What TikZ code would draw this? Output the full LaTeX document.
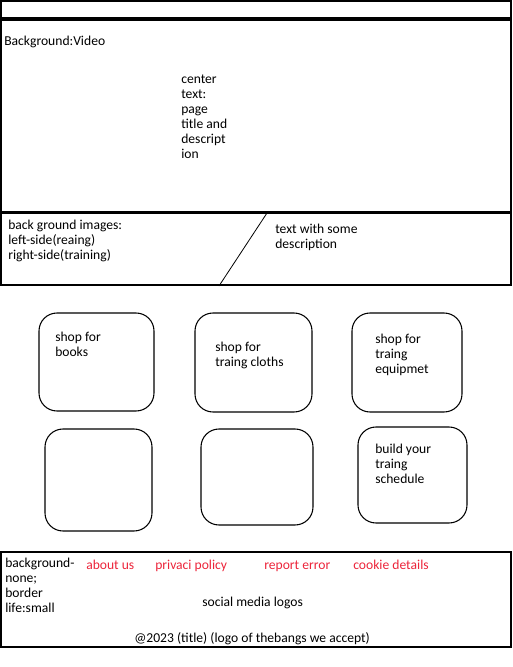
\documentclass[tikz,border=0pt]{standalone}
\usepackage{fontspec}
\setmainfont{Carlito}
\definecolor{linkred}{RGB}{236,36,58}
\tikzset{
  panel/.style={draw=black, line width=0.8pt},
  tile/.style={draw=black, line width=0.8pt, rounded corners=13.5pt},
  txt/.style={black, anchor=base west, inner sep=0pt, align=left, font=\fontsize{10.2}{11.25}\selectfont},
  link/.style={txt, text=linkred},
}
\begin{document}
\begin{tikzpicture}[x=0.75pt, y=-0.75pt]
    \useasboundingbox (0,0) rectangle (512,667);
    % header and hero (multi-line text sits on its last baseline)
    \draw[panel] (1,1) rectangle (511,18);
    \draw[panel] (1,20) rectangle (511,212);
    \draw[panel] (1,213) rectangle (511,285);
    \draw[draw=black, line width=0.8pt] (1,212.5) -- (511,212.5);
    \coordinate (cutTop) at (267,213);
    \coordinate (cutBot) at (219,286);
    \draw[draw=black, line width=0.6pt] (cutTop) -- (cutBot);
    \node[txt] (heroBg) at (4,46) {Background:Video};
    \node[txt] (heroCenter) at (181,158) {center\\text:\\page\\title and\\descript\\ion};
    \node[txt] (bandLeft) at (8,259) {back ground images:\\left-side(reaing)\\right-side(training)};
    \node[txt] (bandRight) at (275,248) {text with some\\description};
    % tiles
    \draw[tile] (39,313) rectangle (154,411);
    \draw[tile] (195,313) rectangle (312,412);
    \draw[tile] (352,313) rectangle (462,412);
    \draw[tile] (45,429) rectangle (152,531);
    \draw[tile] (201,429) rectangle (313,525);
    \draw[tile] (358,427) rectangle (467,523);
    \node[txt] (tileBooks) at (55,356) {shop for\\books};
    \node[txt] (tileCloths) at (215,366) {shop for\\traing cloths};
    \node[txt] (tileGear) at (375,373) {shop for\\traing\\equipmet};
    \node[txt] (tilePlan) at (375,483) {build your\\traing\\schedule};
    % footer
    \draw[panel] (1,552) rectangle (511,647);
    \node[txt] (footNote) at (5,612) {background-\\none;\\border\\life:small};
    \node[link] (footAbout) at (86,569) {about us};
    \node[link] (footPrivacy) at (155,569) {privaci policy};
    \node[link] (footError) at (264,569) {report error};
    \node[link] (footCookie) at (353,569) {cookie details};
    \node[txt] (footSocial) at (202,606) {social media logos};
    \node[txt] (footCopy) at (134,642) {@2023 (title) (logo of thebangs we accept)};
  \end{tikzpicture}
\end{document}
